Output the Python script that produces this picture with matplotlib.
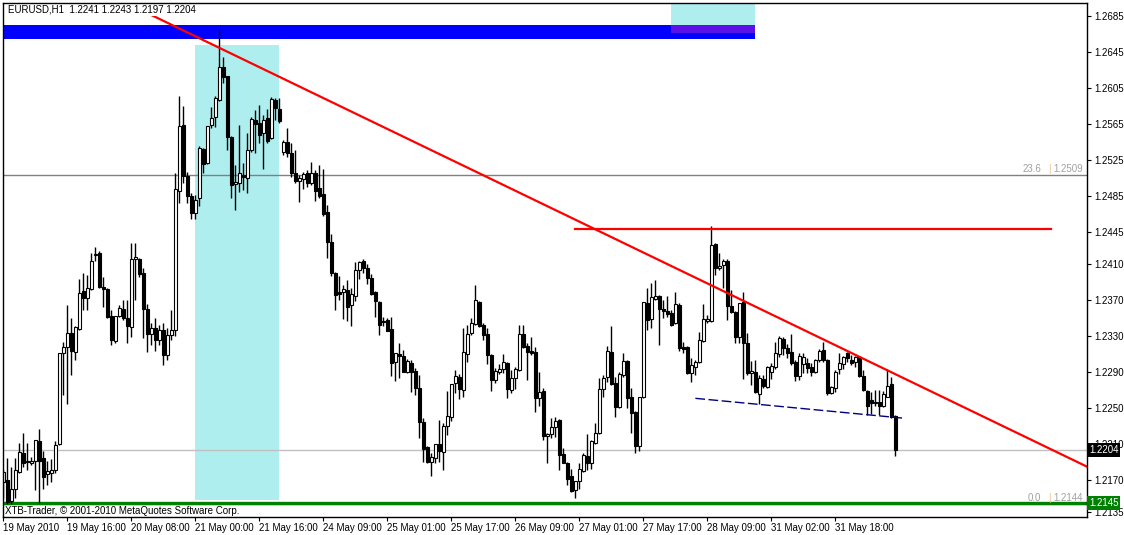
import matplotlib
matplotlib.use("Agg")
import matplotlib.pyplot as plt
from matplotlib.patches import Rectangle
from matplotlib.transforms import blended_transform_factory

plt.rcParams['font.family'] = ['Liberation Sans', 'DejaVu Sans']

symbol_text = "EURUSD,H1  1.2241 1.2243 1.2197 1.2204"
copyright_text = "XTB-Trader, \u00a9 2001-2010 MetaQuotes Software Corp."

opens = [
    1.2168, 1.2170, 1.2147, 1.2161, 1.2179, 1.2200, 1.2192, 1.2189, 1.2192, 1.2214, 1.2195, 1.2177, 1.2178, 1.2181, 1.2210, 1.2311,
    1.2318, 1.2333, 1.2312, 1.2338, 1.2380, 1.2372, 1.2382, 1.2420, 1.2422, 1.2385, 1.2382, 1.2352, 1.2325, 1.2352, 1.2360, 1.2350,
    1.2340, 1.2416, 1.2415, 1.2400, 1.2360, 1.2332, 1.2339, 1.2326, 1.2337, 1.2309, 1.2331, 1.2337, 1.2491, 1.2564, 1.2508, 1.2485,
    1.2467, 1.2483, 1.2538, 1.2522, 1.2564, 1.2573, 1.2592, 1.2628, 1.2618, 1.2551, 1.2499, 1.2500, 1.2509, 1.2505, 1.2536, 1.2570,
    1.2566, 1.2555, 1.2572, 1.2550, 1.2592, 1.2582, 1.2534, 1.2545, 1.2533, 1.2511, 1.2502, 1.2504, 1.2511, 1.2500, 1.2511, 1.2494,
    1.2488, 1.2468, 1.2434, 1.2400, 1.2379, 1.2379, 1.2381, 1.2364, 1.2375, 1.2403, 1.2413, 1.2405, 1.2394, 1.2379, 1.2368, 1.2347,
    1.2348, 1.2338, 1.2301, 1.2310, 1.2308, 1.2290, 1.2300, 1.2291, 1.2272, 1.2235, 1.2207, 1.2190, 1.2195, 1.2210, 1.2202, 1.2230,
    1.2240, 1.2278, 1.2285, 1.2270, 1.2310, 1.2333, 1.2343, 1.2368, 1.2342, 1.2332, 1.2309, 1.2281, 1.2290, 1.2293, 1.2300, 1.2270,
    1.2283, 1.2292, 1.2332, 1.2319, 1.2313, 1.2312, 1.2261, 1.2269, 1.2219, 1.2221, 1.2229, 1.2237, 1.2199, 1.2189, 1.2175, 1.2159,
    1.2169, 1.2180, 1.2197, 1.2189, 1.2211, 1.2222, 1.2271, 1.2285, 1.2312, 1.2278, 1.2251, 1.2287, 1.2302, 1.2262, 1.2246, 1.2208,
    1.2262, 1.2367, 1.2349, 1.2371, 1.2375, 1.2360, 1.2358, 1.2356, 1.2344, 1.2365, 1.2318, 1.2318, 1.2289, 1.2296, 1.2301, 1.2325,
    1.2347, 1.2347, 1.2432, 1.2405, 1.2409, 1.2413, 1.2363, 1.2357, 1.2329, 1.2368, 1.2322, 1.2289, 1.2290, 1.2266, 1.2282, 1.2274,
    1.2290, 1.2296, 1.2310, 1.2327, 1.2317, 1.2312, 1.2301, 1.2286, 1.2299, 1.2300, 1.2296, 1.2290, 1.2303, 1.2315, 1.2304, 1.2267,
    1.2272, 1.2293, 1.2299, 1.2311, 1.2303, 1.2301, 1.2307, 1.2286, 1.2269, 1.2259, 1.2257, 1.2257, 1.2252, 1.2263, 1.2277, 1.2241,
]
highs = [
    1.2181, 1.2195, 1.2185, 1.2195, 1.2211, 1.2222, 1.2211, 1.2196, 1.2215, 1.2227, 1.2203, 1.2192, 1.2194, 1.2214, 1.2311, 1.2323,
    1.2364, 1.2350, 1.2341, 1.2393, 1.2400, 1.2398, 1.2422, 1.2429, 1.2424, 1.2395, 1.2383, 1.2359, 1.2352, 1.2364, 1.2370, 1.2370,
    1.2433, 1.2433, 1.2417, 1.2406, 1.2366, 1.2345, 1.2350, 1.2342, 1.2345, 1.2339, 1.2359, 1.2511, 1.2596, 1.2585, 1.2512, 1.2489,
    1.2487, 1.2541, 1.2539, 1.2563, 1.2584, 1.2596, 1.2671, 1.2639, 1.2619, 1.2552, 1.2520, 1.2564, 1.2522, 1.2555, 1.2573, 1.2581,
    1.2586, 1.2575, 1.2582, 1.2595, 1.2594, 1.2594, 1.2548, 1.2561, 1.2544, 1.2536, 1.2509, 1.2512, 1.2514, 1.2523, 1.2514, 1.2520,
    1.2515, 1.2475, 1.2443, 1.2401, 1.2397, 1.2387, 1.2392, 1.2383, 1.2412, 1.2413, 1.2415, 1.2410, 1.2399, 1.2380, 1.2369, 1.2351,
    1.2350, 1.2351, 1.2311, 1.2322, 1.2315, 1.2305, 1.2303, 1.2295, 1.2287, 1.2239, 1.2208, 1.2200, 1.2210, 1.2237, 1.2234, 1.2269,
    1.2277, 1.2292, 1.2288, 1.2339, 1.2342, 1.2350, 1.2387, 1.2369, 1.2344, 1.2339, 1.2310, 1.2295, 1.2299, 1.2310, 1.2301, 1.2292,
    1.2296, 1.2342, 1.2342, 1.2322, 1.2329, 1.2318, 1.2290, 1.2272, 1.2222, 1.2239, 1.2240, 1.2238, 1.2206, 1.2190, 1.2183, 1.2169,
    1.2189, 1.2200, 1.2221, 1.2215, 1.2234, 1.2283, 1.2287, 1.2319, 1.2341, 1.2285, 1.2290, 1.2311, 1.2304, 1.2273, 1.2247, 1.2262,
    1.2368, 1.2383, 1.2389, 1.2392, 1.2376, 1.2370, 1.2375, 1.2359, 1.2379, 1.2367, 1.2323, 1.2319, 1.2306, 1.2303, 1.2335, 1.2366,
    1.2353, 1.2452, 1.2433, 1.2422, 1.2415, 1.2415, 1.2381, 1.2358, 1.2367, 1.2379, 1.2333, 1.2302, 1.2303, 1.2287, 1.2287, 1.2297,
    1.2300, 1.2323, 1.2330, 1.2329, 1.2321, 1.2332, 1.2303, 1.2311, 1.2311, 1.2306, 1.2300, 1.2305, 1.2316, 1.2324, 1.2305, 1.2275,
    1.2292, 1.2311, 1.2308, 1.2312, 1.2309, 1.2308, 1.2308, 1.2292, 1.2270, 1.2268, 1.2270, 1.2270, 1.2269, 1.2293, 1.2285, 1.2243,
]
lows = [
    1.2151, 1.2144, 1.2144, 1.2151, 1.2178, 1.2185, 1.2181, 1.2187, 1.2159, 1.2145, 1.2161, 1.2165, 1.2168, 1.2178, 1.2209, 1.2265,
    1.2255, 1.2287, 1.2303, 1.2337, 1.2359, 1.2359, 1.2381, 1.2413, 1.2383, 1.2362, 1.2350, 1.2320, 1.2322, 1.2351, 1.2348, 1.2322,
    1.2329, 1.2370, 1.2395, 1.2328, 1.2312, 1.2320, 1.2314, 1.2320, 1.2298, 1.2303, 1.2326, 1.2330, 1.2478, 1.2500, 1.2478, 1.2460,
    1.2460, 1.2474, 1.2511, 1.2521, 1.2561, 1.2562, 1.2591, 1.2611, 1.2536, 1.2483, 1.2470, 1.2490, 1.2492, 1.2489, 1.2534, 1.2533,
    1.2544, 1.2515, 1.2544, 1.2549, 1.2570, 1.2566, 1.2531, 1.2529, 1.2506, 1.2500, 1.2479, 1.2493, 1.2495, 1.2498, 1.2480, 1.2483,
    1.2463, 1.2417, 1.2397, 1.2359, 1.2370, 1.2349, 1.2347, 1.2341, 1.2369, 1.2393, 1.2400, 1.2388, 1.2376, 1.2351, 1.2331, 1.2341,
    1.2336, 1.2286, 1.2280, 1.2284, 1.2290, 1.2289, 1.2268, 1.2265, 1.2217, 1.2190, 1.2189, 1.2175, 1.2189, 1.2190, 1.2182, 1.2220,
    1.2236, 1.2267, 1.2260, 1.2262, 1.2301, 1.2331, 1.2342, 1.2340, 1.2326, 1.2299, 1.2269, 1.2278, 1.2288, 1.2289, 1.2261, 1.2267,
    1.2271, 1.2291, 1.2317, 1.2281, 1.2309, 1.2246, 1.2253, 1.2215, 1.2189, 1.2217, 1.2218, 1.2181, 1.2189, 1.2165, 1.2157, 1.2150,
    1.2161, 1.2179, 1.2181, 1.2183, 1.2210, 1.2221, 1.2262, 1.2279, 1.2276, 1.2240, 1.2250, 1.2285, 1.2250, 1.2223, 1.2200, 1.2203,
    1.2261, 1.2337, 1.2339, 1.2370, 1.2320, 1.2350, 1.2351, 1.2341, 1.2343, 1.2314, 1.2311, 1.2288, 1.2279, 1.2287, 1.2300, 1.2324,
    1.2344, 1.2346, 1.2398, 1.2403, 1.2383, 1.2348, 1.2356, 1.2322, 1.2322, 1.2282, 1.2287, 1.2276, 1.2267, 1.2255, 1.2273, 1.2272,
    1.2282, 1.2294, 1.2307, 1.2309, 1.2306, 1.2298, 1.2280, 1.2281, 1.2289, 1.2289, 1.2286, 1.2289, 1.2301, 1.2301, 1.2265, 1.2266,
    1.2268, 1.2288, 1.2293, 1.2301, 1.2298, 1.2296, 1.2285, 1.2269, 1.2242, 1.2244, 1.2253, 1.2243, 1.2251, 1.2262, 1.2239, 1.2197,
]
closes = [
    1.2179, 1.2146, 1.2161, 1.2181, 1.2201, 1.2189, 1.2190, 1.2191, 1.2215, 1.2192, 1.2174, 1.2180, 1.2182, 1.2209, 1.2311, 1.2318,
    1.2334, 1.2314, 1.2340, 1.2378, 1.2372, 1.2383, 1.2413, 1.2421, 1.2384, 1.2382, 1.2351, 1.2326, 1.2352, 1.2361, 1.2350, 1.2341,
    1.2415, 1.2418, 1.2399, 1.2360, 1.2332, 1.2339, 1.2326, 1.2337, 1.2309, 1.2331, 1.2337, 1.2493, 1.2563, 1.2508, 1.2485, 1.2467,
    1.2481, 1.2539, 1.2521, 1.2563, 1.2572, 1.2594, 1.2628, 1.2617, 1.2551, 1.2498, 1.2501, 1.2511, 1.2506, 1.2536, 1.2571, 1.2565,
    1.2553, 1.2570, 1.2546, 1.2593, 1.2583, 1.2569, 1.2545, 1.2533, 1.2511, 1.2502, 1.2505, 1.2510, 1.2500, 1.2511, 1.2491, 1.2485,
    1.2465, 1.2434, 1.2400, 1.2376, 1.2377, 1.2382, 1.2362, 1.2377, 1.2403, 1.2412, 1.2405, 1.2394, 1.2377, 1.2369, 1.2342, 1.2346,
    1.2336, 1.2300, 1.2311, 1.2308, 1.2290, 1.2302, 1.2290, 1.2272, 1.2235, 1.2205, 1.2190, 1.2196, 1.2210, 1.2203, 1.2230, 1.2241,
    1.2277, 1.2286, 1.2271, 1.2312, 1.2332, 1.2344, 1.2370, 1.2341, 1.2331, 1.2309, 1.2281, 1.2291, 1.2293, 1.2301, 1.2271, 1.2283,
    1.2293, 1.2332, 1.2318, 1.2312, 1.2311, 1.2261, 1.2268, 1.2219, 1.2221, 1.2229, 1.2236, 1.2198, 1.2189, 1.2172, 1.2158, 1.2169,
    1.2183, 1.2198, 1.2189, 1.2214, 1.2222, 1.2271, 1.2283, 1.2313, 1.2277, 1.2251, 1.2288, 1.2302, 1.2261, 1.2245, 1.2208, 1.2262,
    1.2368, 1.2348, 1.2373, 1.2374, 1.2360, 1.2358, 1.2354, 1.2342, 1.2366, 1.2317, 1.2316, 1.2289, 1.2298, 1.2301, 1.2326, 1.2349,
    1.2349, 1.2431, 1.2405, 1.2408, 1.2413, 1.2363, 1.2357, 1.2329, 1.2367, 1.2322, 1.2289, 1.2291, 1.2268, 1.2283, 1.2275, 1.2296,
    1.2297, 1.2311, 1.2328, 1.2317, 1.2311, 1.2300, 1.2286, 1.2308, 1.2307, 1.2295, 1.2290, 1.2303, 1.2313, 1.2304, 1.2267, 1.2274,
    1.2290, 1.2300, 1.2307, 1.2306, 1.2300, 1.2307, 1.2286, 1.2270, 1.2253, 1.2256, 1.2256, 1.2253, 1.2266, 1.2275, 1.2240, 1.2204,
]

time_labels = ["19 May 2010", "19 May 16:00", "20 May 08:00", "21 May 00:00", "21 May 16:00",
               "24 May 09:00", "25 May 01:00", "25 May 17:00", "26 May 09:00", "27 May 01:00",
               "27 May 17:00", "28 May 09:00", "31 May 02:00", "31 May 18:00"]
bars_per_label = 16

price_ticks = [1.2685, 1.2645, 1.2605, 1.2565, 1.2525, 1.2485, 1.2445, 1.2410,
               1.2370, 1.2330, 1.2290, 1.2250, 1.2210, 1.2170, 1.2135]

fib_236 = 1.2509
fib_0 = 1.2144
support_price = 1.2145
bid_price = 1.2204
resistance_price = 1.2449
resistance_bars = [143, 262]
trend_bars = [30.5, 271.0]
trend_prices = [1.2700, 1.2185]
wedge_bars = [173, 225]
wedge_prices = [1.2261, 1.2239]
zone_main = (48, 69, 1.2148, 1.2653)
band_blue = (-2, 188, 1.2659, 1.2675)
zone_top = (167, 188, 1.2666, 1.2720)
overlap_top = (167, 188, 1.2666, 1.2675)

W, H = 1124, 535
fig = plt.figure(figsize=(W / 100, H / 100), dpi=100)
ax = fig.add_axes([3 / W, 1 - 517 / H, 1084 / W, 514 / H])
ax.set_xlim(-0.075, 270.9)
ax.set_ylim(1.21294, 1.26994)

# background objects
for (x0, x1, y0, y1), col in [(zone_main, '#AFEEEE'), (band_blue, '#0000FF'),
                              (zone_top, '#AFEEEE'), (overlap_top, '#5B10E6')]:
    ax.add_patch(Rectangle((x0, y0), x1 - x0, y1 - y0, facecolor=col,
                           edgecolor='none', zorder=0.5))

ax.axhline(fib_236, color='#808080', lw=1, zorder=1)
ax.axhline(fib_0, color='#808080', lw=1, zorder=1)
ax.axhline(bid_price, color='#C0C0C0', lw=1, zorder=1)
ax.axhline(support_price, color='#008000', lw=2.4, zorder=1.2)

# candles
idx = list(range(len(opens)))
ax.vlines(idx, lows, highs, color='black', lw=1, zorder=2)
for i in idx:
    o, c = opens[i], closes[i]
    bottom = min(o, c)
    h = max(abs(c - o), 0.00002)
    fc = 'white' if c >= o else 'black'
    ax.add_patch(Rectangle((i - 0.3, bottom), 0.6, h, facecolor=fc,
                           edgecolor='black', lw=0.8, zorder=3))

# drawn objects
ax.plot(trend_bars, trend_prices, color='#FF0000', lw=1.6, zorder=5)
ax.plot(resistance_bars, [resistance_price] * 2, color='#FF0000', lw=1.6, zorder=5)
ax.plot(wedge_bars, wedge_prices, color='#000080', lw=1, dashes=(7, 2.5), zorder=5)

# axes styling
for s in ax.spines.values():
    s.set_linewidth(1)
    s.set_color('black')
    s.set_zorder(20)
ax.yaxis.tick_right()
ax.set_yticks(price_ticks)
ax.set_yticklabels([f"{p:.4f}" for p in price_ticks])
ax.tick_params(axis='y', direction='out', length=3, width=0.8, pad=2,
               labelsize=7, colors='black')
ax.set_xticks([k * bars_per_label for k in range(len(time_labels))])
ax.set_xticklabels(time_labels)
for lab in ax.get_xticklabels():
    lab.set_horizontalalignment('left')
ax.tick_params(axis='x', direction='out', length=3, width=0.8, pad=1.5,
               labelsize=7, colors='black')

tr = blended_transform_factory(ax.transAxes, ax.transData)
ax.text(1 + 2 / 1084, bid_price, f"{bid_price:.4f}", transform=tr, color='white',
        fontsize=7, va='center', ha='left', zorder=30, clip_on=False,
        bbox=dict(boxstyle='square,pad=0.2', fc='black', ec='none'))
ax.text(1 + 2 / 1084, support_price, f"{support_price:.4f}", transform=tr, color='white',
        fontsize=7, va='center', ha='left', zorder=30, clip_on=False,
        bbox=dict(boxstyle='square,pad=0.2', fc='#008000', ec='none'))

# fibo labels
for lvl, name in [(fib_236, "23.6"), (fib_0, "0.0")]:
    ax.text((1083 - 3) / 1084, lvl + 0.00008, f"{lvl:.4f}", transform=tr,
            color='#A0A0A0', fontsize=7, ha='right', va='bottom', zorder=6)
    ax.text((1049 - 3) / 1084, lvl + 0.00008, "|", transform=tr,
            color='#F0C080', fontsize=7, ha='center', va='bottom', zorder=6)
    ax.text((1041 - 3) / 1084, lvl + 0.00008, name, transform=tr,
            color='#A0A0A0', fontsize=7, ha='right', va='bottom', zorder=6)

ax.text(5 / 1084, 1 - 7 / 514, symbol_text, transform=ax.transAxes, fontsize=7,
        color='black', ha='left', va='center', zorder=15,
        bbox=dict(boxstyle='square,pad=0.1', fc='white', ec='none'))
ax.text(2 / 1084, 6 / 514, copyright_text, transform=ax.transAxes, fontsize=7,
        color='black', ha='left', va='center', zorder=15)

fig.savefig("out.png", dpi=100, facecolor='white')
